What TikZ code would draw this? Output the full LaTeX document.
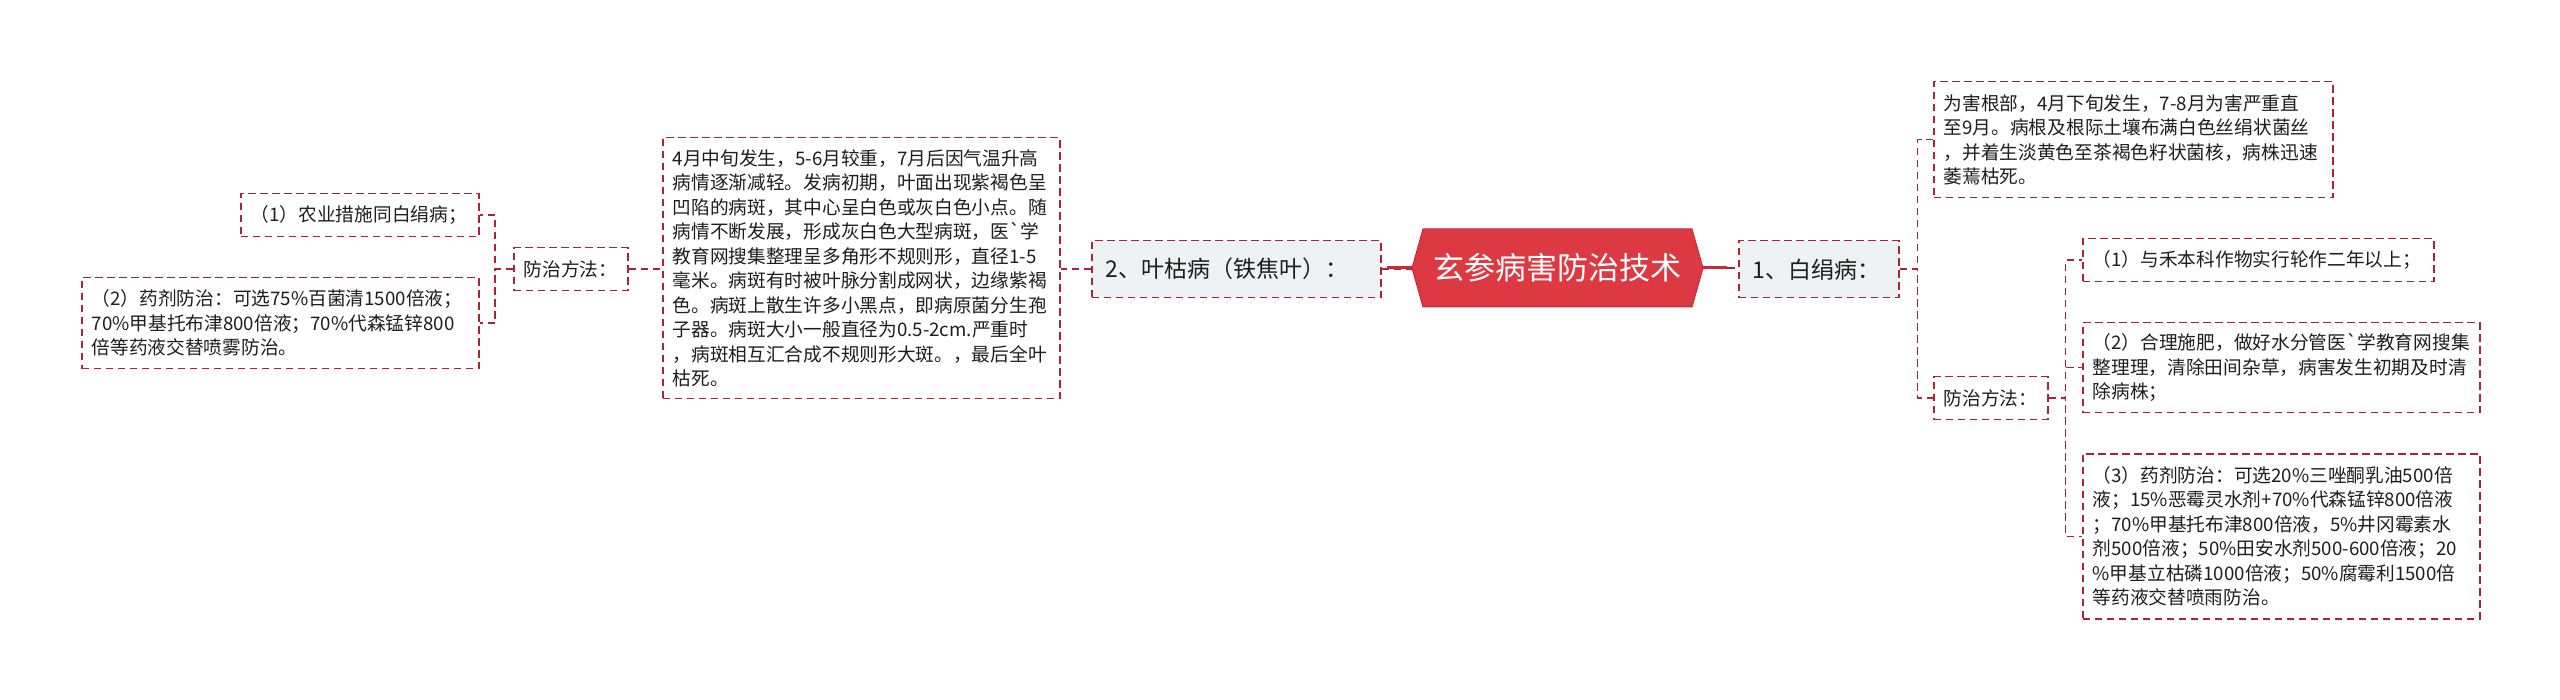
\documentclass[tikz,border=0pt]{standalone}
\usepackage{fontspec}
\newfontfamily\cjk{Noto Sans CJK SC}
\usetikzlibrary{calc}
\definecolor{bordc}{RGB}{172,36,52}
\definecolor{hexc}{RGB}{220,57,66}
\definecolor{hexd}{RGB}{200,45,55}
\definecolor{linec}{RGB}{196,46,58}
\definecolor{grayfill}{RGB}{239,242,245}
\definecolor{txt}{RGB}{30,30,30}
\exhyphenpenalty=10000
\hyphenpenalty=10000
\begin{document}
\begin{tikzpicture}[x=1pt,y=-1pt,
 box/.style={draw=bordc, line width=1.5pt, dash pattern=on 7.5pt off 4.5pt, inner xsep=10pt, inner ysep=0pt, anchor=north west, align=left, text=txt, font=\cjk\fontsize{18.7}{24.5}\selectfont},
 lvlone/.style={box, fill=grayfill, inner xsep=14pt, font=\cjk\fontsize{23}{28}\selectfont},
 conn/.style={draw=bordc, line width=1.5pt, dash pattern=on 7.5pt off 4.5pt},
 solidconn/.style={draw=linec, line width=3pt}]
\useasboundingbox (0,0) rectangle (2560,700);
\fill[white] (0,0) rectangle (2560,700);

% central topic
\coordinate (hexL) at (1412,268);
\coordinate (hexR) at (1703,268);
\filldraw[fill=hexc, draw=hexd, line width=1pt] (1423,229) -- (1692,229) -- (hexR) -- (1692,307) -- (1423,307) -- (hexL) -- cycle;
\node[text=white, font=\cjk\fontsize{31}{36}\selectfont] (hex) at (1557.5,268) {玄参病害防治技术};

% left side
\node[box, text width=218pt, minimum height=43pt] (l1) at (240,193) {（1）农业措施同白绢病；};
\node[box, text width=377pt, minimum height=91pt] (l2) at (81,277) {（2）药剂防治：可选75\%百菌清1500倍液；\\70\%甲基托布津800倍液；70\%代森锰锌800\\倍等药液交替喷雾防治。};
\node[box, text width=94pt, minimum height=43pt] (lfz) at (513,247) {防治方法：};
\node[box, text width=377pt, minimum height=261pt] (lbig) at (662,137) {4月中旬发生，5-6月较重，7月后因气温升高\\病情逐渐减轻。发病初期，叶面出现紫褐色呈\\凹陷的病斑，其中心呈白色或灰白色小点。随\\病情不断发展，形成灰白色大型病斑，医`学\\教育网搜集整理呈多角形不规则形，直径1-5\\毫米。病斑有时被叶脉分割成网状，边缘紫褐\\色。病斑上散生许多小黑点，即病原菌分生孢\\子器。病斑大小一般直径为0.5-2cm.严重时\\，病斑相互汇合成不规则形大斑。，最后全叶\\枯死。};
\node[lvlone, text width=261pt, minimum height=57pt] (l0) at (1091,240) {2、叶枯病（铁焦叶）：};

% right side
\node[lvlone, text width=132pt, minimum height=57pt] (r0) at (1738,240) {1、白绢病：};
\node[box, text width=379pt, minimum height=116pt] (rtop) at (1933,81) {为害根部，4月下旬发生，7-8月为害严重直\\至9月。病根及根际土壤布满白色丝绢状菌丝\\，并着生淡黄色至茶褐色籽状菌核，病株迅速\\萎蔫枯死。};
\node[box, text width=94pt, minimum height=43pt] (rfz) at (1933,376) {防治方法：};
\node[box, text width=331pt, minimum height=43pt] (r1) at (2082,238) {（1）与禾本科作物实行轮作二年以上；};
\node[box, text width=377pt, minimum height=90pt] (r2) at (2082,322) {（2）合理施肥，做好水分管医`学教育网搜集\\整理理，清除田间杂草，病害发生初期及时清\\除病株；};
\node[box, text width=377pt, minimum height=165pt] (r3) at (2082,453) {（3）药剂防治：可选20\%三唑酮乳油500倍\\液；15\%恶霉灵水剂+70\%代森锰锌800倍液\\；70\%甲基托布津800倍液，5\%井冈霉素水\\剂500倍液；50\%田安水剂500-600倍液；20\\\%甲基立枯磷1000倍液；50\%腐霉利1500倍\\等药液交替喷雨防治。};

% connectors left
\draw[conn] (lfz.east) -- (lfz.east -| lbig.west);
\draw[conn] (lfz.west) -- ++(-18,0) |- (l1.east);
\draw[conn] (lfz.west) -- ++(-18,0) |- (l2.east);
\draw[conn] (l0.west) -- (l0.west -| lbig.east);
\draw[conn] (l0.east) -- (l0.east -| hexL);
\draw[solidconn] (hexL) -- ++(-25,0);

% connectors right
\draw[conn] (hexR) -- (hexR -| r0.west);
\draw[solidconn] (hexR) -- ++(24,0);
\draw[conn] (r0.east) -- ++(18,0) |- (rtop.west);
\draw[conn] (r0.east) -- ++(18,0) |- (rfz.west);
\draw[conn] (rfz.east) -- ++(17,0) |- (r1.west);
\draw[conn] (rfz.east) -- ++(17,0) |- (r2.west);
\draw[conn] (rfz.east) -- ++(17,0) |- (r3.west);
\end{tikzpicture}
\end{document}
